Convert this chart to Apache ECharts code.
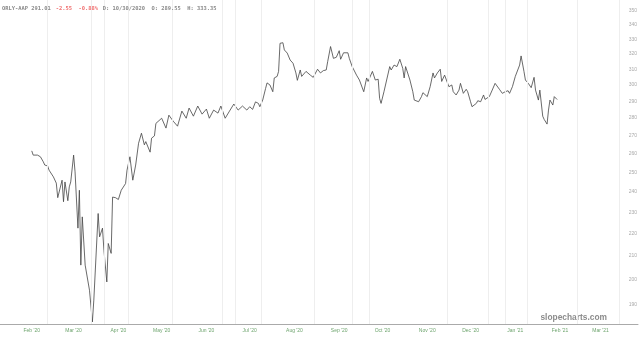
<!DOCTYPE html>
<html><head><meta charset="utf-8">
<script src="https://cdn.jsdelivr.net/npm/echarts@6/dist/echarts.min.js"></script>
<style>html,body{margin:0;padding:0;background:#fff}#c{width:640px;height:338px}</style>
</head><body><div id="c"></div>
<script>
const dates = [
'2020-02-01','2020-02-02','2020-02-05','2020-02-07','2020-02-09','2020-02-10','2020-02-12','2020-02-13','2020-02-16','2020-02-18',
'2020-02-19','2020-02-20','2020-02-22','2020-02-23','2020-02-24','2020-02-26','2020-02-27','2020-02-28','2020-03-01','2020-03-02',
'2020-03-04','2020-03-05','2020-03-06','2020-03-07','2020-03-09','2020-03-10','2020-03-12','2020-03-14','2020-03-15','2020-03-18',
'2020-03-19','2020-03-21','2020-03-22','2020-03-24','2020-03-25','2020-03-27','2020-03-28','2020-03-30','2020-04-01','2020-04-03',
'2020-04-06','2020-04-07','2020-04-09','2020-04-11','2020-04-13','2020-04-15','2020-04-17','2020-04-19','2020-04-20','2020-04-23',
'2020-04-24','2020-04-26','2020-04-27','2020-05-01','2020-05-04','2020-05-06','2020-05-09','2020-05-12','2020-05-15','2020-05-18',
'2020-05-20','2020-05-23','2020-05-26','2020-05-29','2020-06-01','2020-06-03','2020-06-06','2020-06-09','2020-06-11','2020-06-14',
'2020-06-17','2020-06-20','2020-06-22','2020-06-23','2020-06-26','2020-06-29','2020-07-01','2020-07-03','2020-07-05','2020-07-07',
'2020-07-08','2020-07-10','2020-07-12','2020-07-13','2020-07-15','2020-07-17','2020-07-18','2020-07-20','2020-07-21','2020-07-22',
'2020-07-24','2020-07-25','2020-07-27','2020-07-29','2020-07-31','2020-08-02','2020-08-03','2020-08-05','2020-08-06','2020-08-09',
'2020-08-12','2020-08-14','2020-08-15','2020-08-17','2020-08-19','2020-08-21','2020-08-23','2020-08-24','2020-08-26','2020-08-28',
'2020-08-30','2020-09-01','2020-09-02','2020-09-04','2020-09-07','2020-09-08','2020-09-10','2020-09-13','2020-09-15','2020-09-18',
'2020-09-20','2020-09-21','2020-09-24','2020-09-26','2020-09-28','2020-09-29','2020-09-30','2020-10-02','2020-10-03','2020-10-06',
'2020-10-07','2020-10-09','2020-10-11','2020-10-13','2020-10-15','2020-10-16','2020-10-17','2020-10-20','2020-10-22','2020-10-23',
'2020-10-26','2020-10-28','2020-10-29','2020-11-01','2020-11-03','2020-11-05','2020-11-06','2020-11-08','2020-11-10','2020-11-11',
'2020-11-13','2020-11-14','2020-11-16','2020-11-18','2020-11-19','2020-11-21','2020-11-23','2020-11-24','2020-11-26','2020-11-28',
'2020-11-29','2020-12-01','2020-12-02','2020-12-05','2020-12-06','2020-12-08','2020-12-10','2020-12-11','2020-12-14','2020-12-16',
'2020-12-18','2020-12-21','2020-12-23','2020-12-25','2020-12-27','2020-12-28','2020-12-30','2021-01-01','2021-01-04','2021-01-05',
'2021-01-07','2021-01-08','2021-01-10','2021-01-12','2021-01-14','2021-01-15','2021-01-17','2021-01-18','2021-01-20','2021-01-21',
'2021-01-23','2021-01-24','2021-01-25','2021-01-27','2021-01-28','2021-01-30'
];
const values = [
261.5,259.2,259.2,258.3,255.6,253.9,253.4,251.2,247.7,244.5,
237.2,236.8,246.0,235.2,245.1,235.7,242.6,245.1,259.2,250.3,
222.6,240.9,206.1,227.9,206.1,205.4,195.6,183.1,191.6,229.5,
218.6,222.6,212.6,199.0,215.6,211.2,237.5,237.2,236.3,240.9,
244.3,251.2,258.3,246.0,253.9,265.7,271.3,264.8,266.6,260.8,
268.5,269.8,276.9,279.9,274.2,281.7,278.2,275.3,284.1,279.9,
285.9,281.1,287.1,282.3,285.3,279.9,284.7,282.9,287.1,279.9,
284.1,288.3,285.9,284.7,287.1,284.7,286.7,285.1,289.6,288.7,
286.7,290.7,297.8,301.3,300.0,295.8,304.4,305.4,308.6,327.2,
327.6,322.7,320.6,316.0,313.9,307.6,302.9,309.5,305.4,308.6,
306.2,304.8,305.4,310.0,307.6,309.1,309.5,314.9,325.0,317.1,
317.8,322.2,316.5,320.8,320.8,317.1,311.7,306.2,303.1,295.8,
304.4,302.2,308.6,303.1,303.6,291.7,288.7,295.8,294.8,311.7,
309.5,312.7,311.7,316.5,310.6,304.4,311.7,303.1,295.8,290.7,
289.7,292.8,295.2,292.8,298.9,307.6,304.4,307.6,310.0,302.2,
306.2,305.4,298.9,300.0,295.8,293.8,296.8,301.0,294.8,297.3,
295.8,289.7,286.7,288.7,290.3,289.7,293.8,291.1,292.8,296.8,
301.0,297.3,294.8,295.8,296.4,294.8,298.9,305.4,312.7,318.7,
308.6,303.1,301.0,298.3,304.8,296.8,290.7,296.8,281.1,279.2,
276.5,284.7,290.7,287.7,292.8,291.01
];
const yTicks = [190,200,210,220,230,240,250,260,270,280,290,300,310,320,330,340,350];
const gridDates = ['2020-02-12','2020-03-13','2020-03-22','2020-04-08','2020-05-08','2020-06-12','2020-06-21','2020-07-09',
  '2020-08-15','2020-09-10','2020-09-22','2020-11-15','2020-12-13','2020-12-25','2021-01-09','2021-02-13','2021-03-14'];
const monthNames = ['Jan','Feb','Mar','Apr','May','Jun','Jul','Aug','Sep','Oct','Nov','Dec'];
const headerName = 'ORLY-AAP 291.01';
const headerChange = '-2.55  -0.88%';
const headerRest = 'D: 10/30/2020  O: 289.55  H: 333.35';

function toTime(s){ const p = s.split('-').map(Number); return new Date(p[0], p[1]-1, p[2]).getTime(); }
const DAY = 86400000;

const chart = echarts.init(document.getElementById('c'), null, {renderer:'canvas'});
chart.setOption({
  animation: false,
  backgroundColor: '#fff',
  grid: {left: 0, right: 0, top: 0, bottom: 14, containLabel: false},
  title: {
    left: 2, top: 0, padding: 0,
    text: '{a|' + headerName + '} {r|' + headerChange + '} {a|' + headerRest + '}',
    textStyle: {rich: {
      a: {fontFamily: 'DejaVu Sans Mono', fontSize: 5.4, color: '#8a8a8a'},
      r: {fontFamily: 'DejaVu Sans Mono', fontSize: 5.4, color: '#f07070'}
    }}
  },
  xAxis: {
    type: 'time',
    min: toTime('2020-01-10'),
    max: toTime('2021-03-27'),
    minInterval: 28 * DAY,
    maxInterval: 31 * DAY,
    axisLine: {show: true, lineStyle: {color: '#aaa', width: 1}},
    axisTick: {show: false},
    splitLine: {show: false},
    axisLabel: {
      fontSize: 5, color: '#6fa56f', margin: 4, hideOverlap: false, showMinLabel: false, showMaxLabel: false,
      formatter: function(v){ const d = new Date(v); return monthNames[d.getMonth()] + " '" + String(d.getFullYear()).slice(2); }
    }
  },
  yAxis: {
    type: 'log', logBase: 10,
    min: 182.3, max: 358.1,
    position: 'right',
    axisLine: {show: false},
    axisTick: {show: false},
    splitLine: {show: false},
    axisLabel: {inside: true, margin: 1, fontSize: 5, color: '#aaa', customValues: yTicks}
  },
  graphic: [{
    type: 'text', right: 33, top: 314, silent: true,
    style: {text: 'slopecharts.com', font: 'bold 8.4px "Liberation Sans", Arial, sans-serif', fill: '#8c8c8c'}
  }],
  series: [{
    type: 'line',
    data: dates.map((d, i) => [toTime(d), values[i]]),
    showSymbol: false,
    lineStyle: {color: '#444', width: 0.8},
    markLine: {
      silent: true, symbol: 'none', label: {show: false},
      lineStyle: {color: '#eeeeee', width: 1, type: 'solid'},
      data: gridDates.map(d => ({xAxis: toTime(d)}))
    }
  }]
});
</script></body></html>
